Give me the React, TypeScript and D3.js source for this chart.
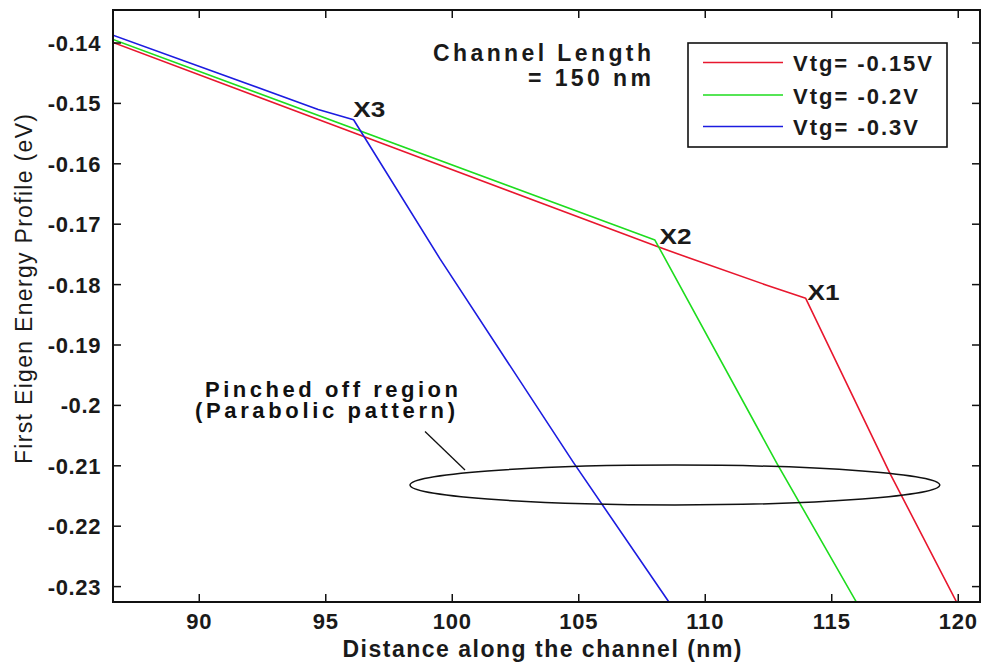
import React from "react";
import * as d3 from "d3";

const W = 982;
const H = 667;

// ---- data ----
const xTicks = [90, 95, 100, 105, 110, 115, 120];
const xTickLabels = ["90", "95", "100", "105", "110", "115", "120"];
const yTicks = [-0.14, -0.15, -0.16, -0.17, -0.18, -0.19, -0.2, -0.21, -0.22, -0.23];
const yTickLabels = ["-0.14", "-0.15", "-0.16", "-0.17", "-0.18", "-0.19", "-0.2", "-0.21", "-0.22", "-0.23"];

const seriesNames = ["Vtg= -0.15V", "Vtg= -0.2V", "Vtg= -0.3V"];
const seriesColors = ["#e8172e", "#1edc1e", "#1c1ce0"];

const redX = [86.59, 96.5, 108.05, 109.4, 112.43, 113.97, 117.3, 119.94];
const redY = [-0.1399, -0.1555, -0.1736, -0.17565, -0.1801, -0.18227, -0.21124, -0.2326];
const greenX = [86.59, 108.01, 112.82, 115.98];
const greenY = [-0.1394, -0.17262, -0.2095, -0.2326];
const blueX = [86.59, 94.7, 96.1, 99.51, 104.78, 108.57];
const blueY = [-0.1387, -0.151, -0.1527, -0.1757, -0.2094, -0.2326];

const pointLabels = ["X1", "X2", "X3"];
const pointLabelX = [114.0, 108.15, 96.05];
const pointLabelY = [-0.1831, -0.1737, -0.1527];

// ellipse annotation (data units)
const ellipseCx = 108.8;
const ellipseCy = -0.21318;
const ellipseRx = 10.47;
const ellipseRy = 0.0033;

const xDomain = [86.59, 120.86];
const yDomain = [-0.134536, -0.23255];

const FONT = "'Liberation Sans', Arial, Helvetica, sans-serif";

export default function App() {
  const left = 113, right = 980, top = 10, bottom = 602;
  const x = d3.scaleLinear().domain(xDomain).range([left, right]);
  const y = d3.scaleLinear().domain(yDomain).range([top, bottom]);

  const series = [
    redX.map((v, i) => [v, redY[i]] as [number, number]),
    greenX.map((v, i) => [v, greenY[i]] as [number, number]),
    blueX.map((v, i) => [v, blueY[i]] as [number, number]),
  ];
  const line = d3
    .line<[number, number]>()
    .x((d) => x(d[0]))
    .y((d) => y(d[1]));

  const tickLen = 8;
  const txt = "#1a1a1a";

  return (
    <svg
      width={W}
      height={H}
      style={{ position: "absolute", left: 0, top: 0, background: "#fff" }}
      fontFamily={FONT}
    >
      <rect x={0} y={0} width={W} height={H} fill="#fff" />
      <defs>
        <clipPath id="plotclip">
          <rect x={left} y={top} width={right - left} height={bottom - top} />
        </clipPath>
      </defs>

      {/* series */}
      <g clipPath="url(#plotclip)">
        {series.map((s, i) => (
          <path key={i} d={line(s) || ""} fill="none" stroke={seriesColors[i]} strokeWidth={1.6} strokeLinejoin="round" />
        ))}
      </g>

      {/* frame */}
      <rect x={left} y={top} width={right - left} height={bottom - top} fill="none" stroke="#111" strokeWidth={2} />

      {/* x ticks */}
      {xTicks.map((t, i) => (
        <g key={"xt" + i}>
          <line x1={x(t)} x2={x(t)} y1={bottom} y2={bottom - tickLen} stroke="#111" strokeWidth={1.5} />
          <line x1={x(t)} x2={x(t)} y1={top} y2={top + tickLen} stroke="#111" strokeWidth={1.5} />
          <text x={x(t)} y={628.5} textAnchor="middle" fontSize={22} fontWeight="bold" letterSpacing={0.8} fill={txt}>
            {xTickLabels[i]}
          </text>
        </g>
      ))}

      {/* y ticks */}
      {yTicks.map((t, i) => (
        <g key={"yt" + i}>
          <line x1={left} x2={left + tickLen} y1={y(t)} y2={y(t)} stroke="#111" strokeWidth={1.5} />
          <line x1={right} x2={right - tickLen} y1={y(t)} y2={y(t)} stroke="#111" strokeWidth={1.5} />
          <text x={101} y={y(t) + 8} textAnchor="end" fontSize={22} fontWeight="bold" letterSpacing={0.6} fill={txt}>
            {yTickLabels[i]}
          </text>
        </g>
      ))}

      {/* axis labels */}
      <text x={542} y={657} textAnchor="middle" fontSize={23} fontWeight="bold" fill={txt} textLength={399} lengthAdjust="spacing">
        Distance along the channel (nm)
      </text>
      <text
        transform="translate(32,289) rotate(-90)"
        textAnchor="middle"
        fontSize={23}
        fill={txt}
        textLength={350}
        lengthAdjust="spacing"
      >
        First Eigen Energy Profile (eV)
      </text>

      {/* annotations */}
      <text x={433} y={61} fontSize={23} fontWeight="bold" fill={txt} textLength={218} lengthAdjust="spacing">
        Channel Length
      </text>
      <text x={528} y={86} fontSize={23} fontWeight="bold" fill={txt} textLength={123} lengthAdjust="spacing">
        = 150 nm
      </text>

      {pointLabels.map((p, i) => (
        <text
          key={p}
          x={x(pointLabelX[i]) + 1}
          y={y(pointLabelY[i]) - 3}
          fontSize={22}
          fontWeight="bold"
          fill={txt}
          textLength={32}
          lengthAdjust="spacingAndGlyphs"
        >
          {p}
        </text>
      ))}

      <text x={205} y={397} fontSize={22} fontWeight="bold" fill="#111" textLength={253} lengthAdjust="spacing">
        Pinched off region
      </text>
      <text x={195} y={418} fontSize={22} fontWeight="bold" fill="#111" textLength={260} lengthAdjust="spacing">
        (Parabolic pattern)
      </text>

      <ellipse
        cx={x(ellipseCx)}
        cy={y(ellipseCy)}
        rx={x(ellipseCx + ellipseRx) - x(ellipseCx)}
        ry={y(ellipseCy - ellipseRy) - y(ellipseCy)}
        fill="none"
        stroke="#111"
        strokeWidth={1.5}
      />
      <line x1={425} y1={431.5} x2={465} y2={470} stroke="#111" strokeWidth={1.3} />

      {/* legend */}
      <rect x={688} y={43} width={259} height={104} fill="#fff" stroke="#111" strokeWidth={1.6} />
      {seriesNames.map((n, i) => {
        const ly = [62.5, 95, 126.5][i];
        return (
          <g key={n}>
            <line x1={703} x2={783} y1={ly} y2={ly} stroke={seriesColors[i]} strokeWidth={1.6} />
            <text x={793} y={ly + 8.5} fontSize={22} fontWeight="bold" fill={txt} textLength={i === 0 ? 139 : 125} lengthAdjust="spacing">
              {n}
            </text>
          </g>
        );
      })}
    </svg>
  );
}
